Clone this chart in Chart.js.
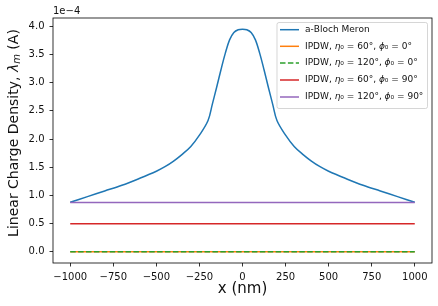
<!DOCTYPE html>
<html>
<head>
<meta charset="utf-8">
<script src="https://cdn.jsdelivr.net/npm/chart.js@4.4.1/dist/chart.umd.min.js"></script>
<style>
  html, body { margin: 0; padding: 0; background: #fff; }
  canvas { display: block; }
</style>
</head>
<body>
<canvas id="chart" width="438" height="306"></canvas>
<script>
// Values in units of 1e-4 A (the axis shows the "1e−4" offset label)
const meronX = [-1000, -900, -800, -700, -600, -500, -450, -400, -350, -300, -250, -200, -175, -150, -125, -100, -75, -50, -25, 0,
  25, 50, 75, 100, 125, 150, 175, 200, 250, 300, 350, 400, 450, 500, 600, 700, 800, 900, 1000];
const meronY = [0.88, 0.98, 1.08, 1.18, 1.30, 1.43, 1.51, 1.61, 1.73, 1.87, 2.07, 2.33, 2.62, 2.92, 3.23, 3.52, 3.76, 3.89, 3.94, 3.95,
  3.94, 3.89, 3.76, 3.52, 3.23, 2.92, 2.62, 2.33, 2.07, 1.87, 1.73, 1.61, 1.51, 1.43, 1.30, 1.18, 1.08, 0.98, 0.88];

const ipdwX = [-1000, 1000];
const ipdw60_0 = [0.0, 0.0];
const ipdw120_0 = [0.0, 0.0];
const ipdw60_90 = [0.5, 0.5];
const ipdw120_90 = [0.875, 0.875];

const seriesLabels = [
  "a-Bloch Meron",
  "IPDW, η₀ = 60°, ϕ₀ = 0°",
  "IPDW, η₀ = 120°, ϕ₀ = 0°",
  "IPDW, η₀ = 60°, ϕ₀ = 90°",
  "IPDW, η₀ = 120°, ϕ₀ = 90°",
];
const seriesColors = ["#1f77b4", "#ff7f0e", "#2ca02c", "#d62728", "#9467bd"];

const xTicks = [-1000, -750, -500, -250, 0, 250, 500, 750, 1000];
const yTicks = [0, 0.5, 1.0, 1.5, 2.0, 2.5, 3.0, 3.5, 4.0];

const FONT = "'DejaVu Sans', sans-serif";

const toPoints = (xs, ys) => xs.map((x, i) => ({ x: x, y: ys[i] }));

const lineSet = (i, xs, ys, extra) => Object.assign({
  label: seriesLabels[i],
  data: toPoints(xs, ys),
  borderColor: seriesColors[i],
  backgroundColor: seriesColors[i],
  borderWidth: 1.5,
  pointRadius: 0,
  tension: 0,
  fill: false,
  order: 5 - i,
}, extra || {});

// frame, offset text, y label and the legend box
const framePlugin = {
  id: "frame",
  afterDraw(chart) {
    const { ctx, chartArea: a } = chart;
    ctx.save();
    ctx.strokeStyle = "#000";
    ctx.lineWidth = 0.8;
    ctx.strokeRect(a.left, a.top, a.right - a.left, a.bottom - a.top);

    ctx.fillStyle = "#111";
    ctx.font = "10px " + FONT;
    ctx.textAlign = "left";
    ctx.textBaseline = "alphabetic";
    ctx.fillText("1e\u22124", a.left, 14);

    // y axis label with a small subscript m
    const parts = [
      { t: "Linear Charge Density, ", f: "14px " + FONT, dy: 0 },
      { t: "λ", f: "italic 14px " + FONT, dy: 0 },
      { t: "m", f: "italic 10px " + FONT, dy: 3 },
      { t: " (A)", f: "14px " + FONT, dy: 0 },
    ];
    let total = 0;
    parts.forEach((p) => { ctx.font = p.f; p.w = ctx.measureText(p.t).width; total += p.w; });
    ctx.translate(14.5, 133);
    ctx.rotate(-Math.PI / 2);
    ctx.textBaseline = "middle";
    let px = -total / 2;
    parts.forEach((p) => { ctx.font = p.f; ctx.fillText(p.t, px, p.dy); px += p.w; });
    ctx.setTransform(1, 0, 0, 1, 0, 0);

    // legend
    const bx = 277, by = 22.5, bw = 150.5, bh = 86;
    ctx.beginPath();
    ctx.roundRect(bx, by, bw, bh, 2);
    ctx.fillStyle = "rgba(255,255,255,0.8)";
    ctx.fill();
    ctx.strokeStyle = "rgba(204,204,204,0.8)";
    ctx.lineWidth = 1;
    ctx.stroke();

    const rows = [29.7, 46.3, 63, 80, 97];
    chart.data.datasets.forEach((ds, i) => {
      const y = rows[i];
      ctx.beginPath();
      ctx.setLineDash(ds.borderDash || []);
      ctx.strokeStyle = ds.borderColor;
      ctx.lineWidth = 1.5;
      ctx.moveTo(280, y);
      ctx.lineTo(299, y);
      ctx.stroke();
      ctx.setLineDash([]);

      let x = 305;
      ctx.fillStyle = "#111";
      ctx.textBaseline = "middle";
      for (const ch of ds.label) {
        ctx.font = (/[ηϕ]/.test(ch) ? "italic " : "") + "9px " + FONT;
        ctx.fillText(ch, x, y);
        x += ctx.measureText(ch).width;
      }
    });
    ctx.restore();
  },
};

new Chart(document.getElementById("chart"), {
  type: "line",
  data: {
    datasets: [
      lineSet(0, meronX, meronY, { tension: 0.35 }),
      lineSet(1, ipdwX, ipdw60_0),
      lineSet(2, ipdwX, ipdw120_0, { borderDash: [5.5, 2.4] }),
      lineSet(3, ipdwX, ipdw60_90),
      lineSet(4, ipdwX, ipdw120_90),
    ],
  },
  options: {
    responsive: false,
    animation: false,
    layout: { padding: { left: 0, top: 18, right: 6, bottom: 0 } },
    plugins: { legend: { display: false }, tooltip: { enabled: false } },
    scales: {
      x: {
        type: "linear",
        min: -1100,
        max: 1100,
        afterBuildTicks: (s) => { s.ticks = xTicks.map((v) => ({ value: v })); },
        afterFit: (s) => { s.height = 43; },
        grid: { drawOnChartArea: false, tickLength: 3.5, tickWidth: 0.8, tickColor: "#000" },
        border: { display: false },
        ticks: {
          color: "#111",
          padding: 5,
          maxRotation: 0,
          font: { family: FONT, size: 10 },
          callback: (v) => String(v).replace("-", "\u2212"),
        },
        title: {
          display: true,
          text: "x (nm)",
          color: "#111",
          font: { family: FONT, size: 15 },
          padding: { top: 0, bottom: 8 },
        },
      },
      y: {
        type: "linear",
        min: -0.1975,
        max: 4.1475,
        afterBuildTicks: (s) => { s.ticks = yTicks.map((v) => ({ value: v })); },
        afterFit: (s) => { s.width = 53; },
        grid: { drawOnChartArea: false, tickLength: 3.5, tickWidth: 0.8, tickColor: "#000" },
        border: { display: false },
        ticks: {
          color: "#111",
          padding: 5,
          font: { family: FONT, size: 10 },
          callback: (v) => v.toFixed(1),
        },
      },
    },
  },
  plugins: [framePlugin],
});
</script>
</body>
</html>
